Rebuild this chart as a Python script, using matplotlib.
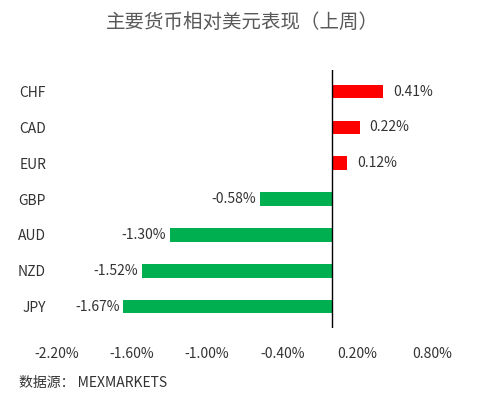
import matplotlib
matplotlib.use("Agg")
import matplotlib.pyplot as plt

plt.rcParams['font.family'] = ['Noto Sans CJK SC', 'DejaVu Sans']

currencies = ["CHF", "CAD", "EUR", "GBP", "AUD", "NZD", "JPY"]
values = [0.41, 0.22, 0.12, -0.58, -1.30, -1.52, -1.67]
xticks = [-2.2, -1.6, -1.0, -0.4, 0.2, 0.8]

fig = plt.figure(figsize=(4.84, 4.03), dpi=100)
ax = fig.add_axes([0.118, 0.186, 0.775, 0.64])
ypos = list(range(len(currencies)))[::-1]
colors = ["#ff0000" if v > 0 else "#00b050" for v in values]
ax.barh(ypos, values, height=0.38, color=colors)
for y, v in zip(ypos, values):
    lab = f"{v:.2f}%"
    if v > 0:
        ax.text(v + 0.08, y, lab, va="center", ha="left", fontsize=10, color="#333333")
    else:
        ax.text(v - 0.03, y, lab, va="center", ha="right", fontsize=10, color="#333333")
ax.axvline(0, color="black", lw=1)
ax.set_xlim(-2.2, 0.8)
ax.set_ylim(-0.6, 6.6)
ax.set_yticks(ypos)
ax.set_yticklabels(currencies, fontsize=10, color="#333333")
ax.set_xticks(xticks)
ax.set_xticklabels([f"{t:.2f}%" for t in xticks], fontsize=10, color="#333333")
ax.tick_params(length=0, pad=14)
ax.tick_params(axis="y", pad=8)
for s in ax.spines.values():
    s.set_visible(False)
fig.text(0.5, 0.945, "主要货币相对美元表现（上周）", ha="center", va="center", fontsize=14, color="#595959")
fig.text(0.04, 0.05, "数据源： MEXMARKETS", ha="left", va="center", fontsize=10, color="#333333")
fig.savefig("out.png", dpi=100)
